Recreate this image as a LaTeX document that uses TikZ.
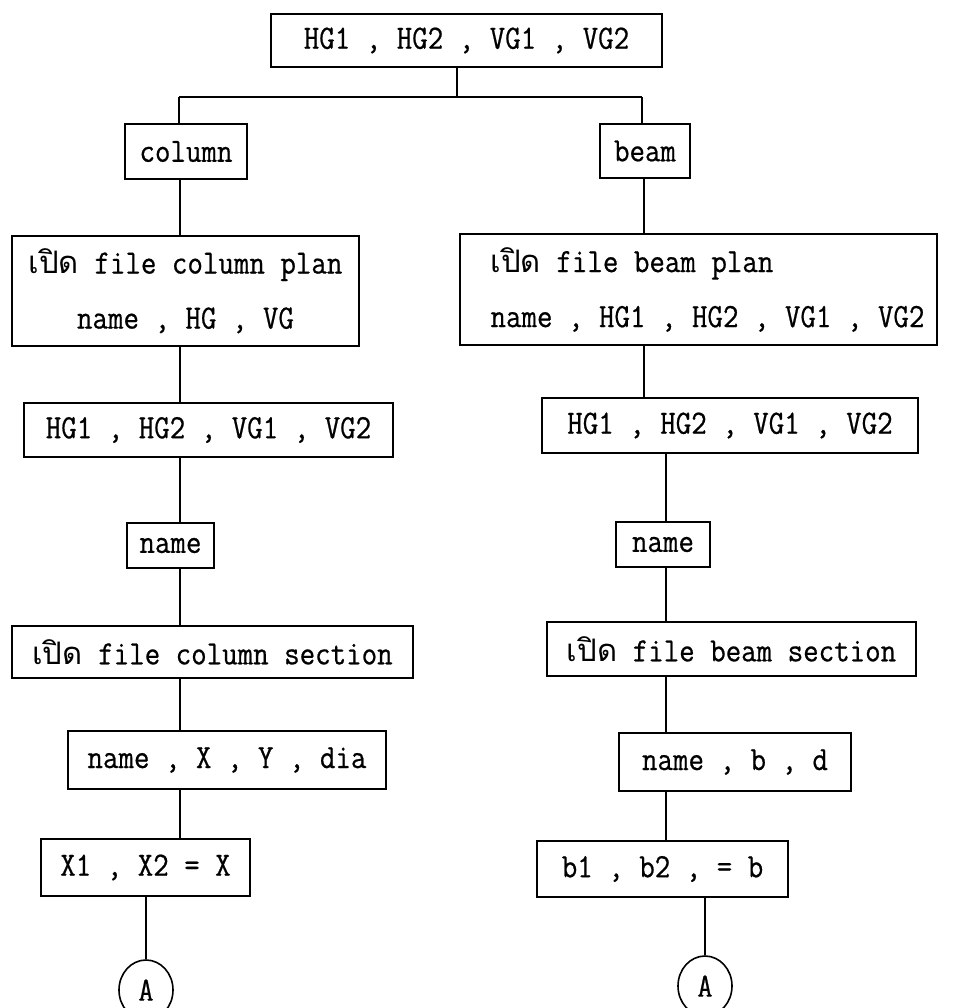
\documentclass[tikz,border=0pt]{standalone}
\usepackage{fontspec}
\newfontfamily\thaifont[Script=Thai]{Loma}
\newfontfamily\typewriter[FakeStretch=0.885,FakeBold=0.6]{Latin Modern Mono}
\usetikzlibrary{shapes.geometric}
\newcommand\poed{{\thaifont\fontsize{31}{55}\selectfont เปิด}}
\begin{document}
\begin{tikzpicture}[x=1pt,y=-1pt,
  every node/.style={font=\typewriter\fontsize{34}{55}\selectfont, inner sep=0pt},
  box/.style 2 args={draw, line width=1.6pt, minimum width=#1, minimum height=#2},
  link/.style={line width=1.6pt},
  conn/.style={draw, ellipse, line width=1.6pt, minimum width=54pt, minimum height=60pt,
    font=\typewriter\fontsize{34}{34}\selectfont}]
\useasboundingbox (0,0) rectangle (957,1008);
\clip (0,0) rectangle (957,1008);

% root
\node[box={391pt}{53pt}] (top) at (466.5,40.5) {HG1 , HG2 , VG1 , VG2};

% column branch
\node[box={122pt}{55pt}] (col) at (186,151.5) {column};
\node[box={347pt}{110pt}, align=center] (cplan) at (185.5,291)
  {\poed{} file column plan\\name , HG , VG};
\node[box={369pt}{54pt}] (chg) at (208.5,430) {HG1 , HG2 , VG1 , VG2};
\node[box={87pt}{45pt}] (cname) at (170.5,545.5) {name};
\node[box={401pt}{52pt}] (csec) at (212.5,652) {\poed{} file column section};
\node[box={318pt}{58pt}] (cnx) at (227,760) {name , X , Y , dia};
\node[box={209pt}{57pt}] (cx1) at (145.5,867.5) {X1 , X2 = X};
\node[conn] (ca) at (146,990) {A};

% beam branch
\node[box={90pt}{54pt}] (beam) at (645,151) {beam};
\node[box={477pt}{111pt}, align=left] (bplan) at (698.5,289.5)
  {\hspace*{18pt}\poed{} file beam plan\\\hspace*{18pt}name , HG1 , HG2 , VG1 , VG2};
\node[box={376pt}{55pt}] (bhg) at (730,425.5) {HG1 , HG2 , VG1 , VG2};
\node[box={94pt}{45pt}] (bname) at (663,544.5) {name};
\node[box={369pt}{54pt}] (bsec) at (731.5,649) {\poed{} file beam section};
\node[box={232pt}{58pt}] (bnbd) at (735,762) {name , b , d};
\node[box={251pt}{56pt}] (bb1) at (662.5,869) {b1 , b2 , = b};
\node[conn] (ba) at (705,986) {A};

% split below the root
\coordinate (j)  at (457,97);
\coordinate (jl) at (179,97);
\coordinate (jr) at (642,97);
\draw[link] (top.south -| j) -- (j);
\draw[link] (jl) -- (jr);
\draw[link] (jl) -- (col.north -| jl);
\draw[link] (jr) -- (beam.north -| jr);

% column stems
\coordinate (cs) at (180,0);
\draw[link] (col.south -| cs) -- (cplan.north -| cs);
\draw[link] (cplan.south -| cs) -- (chg.north -| cs);
\draw[link] (chg.south -| cs) -- (cname.north -| cs);
\draw[link] (cname.south -| cs) -- (csec.north -| cs);
\draw[link] (csec.south -| cs) -- (cnx.north -| cs);
\draw[link] (cnx.south -| cs) -- (cx1.north -| cs);
\draw[link] (cx1.south -| ca) -- (ca.north);

% beam stems
\coordinate (bs) at (644,0);
\coordinate (bt) at (666,0);
\draw[link] (beam.south -| bs) -- (bplan.north -| bs);
\draw[link] (bplan.south -| bs) -- (bhg.north -| bs);
\draw[link] (bhg.south -| bt) -- (bname.north -| bt);
\draw[link] (bname.south -| bt) -- (bsec.north -| bt);
\draw[link] (bsec.south -| bt) -- (bnbd.north -| bt);
\draw[link] (bnbd.south -| bt) -- (bb1.north -| bt);
\draw[link] (bb1.south -| ba) -- (ba.north);
\end{tikzpicture}
\end{document}
